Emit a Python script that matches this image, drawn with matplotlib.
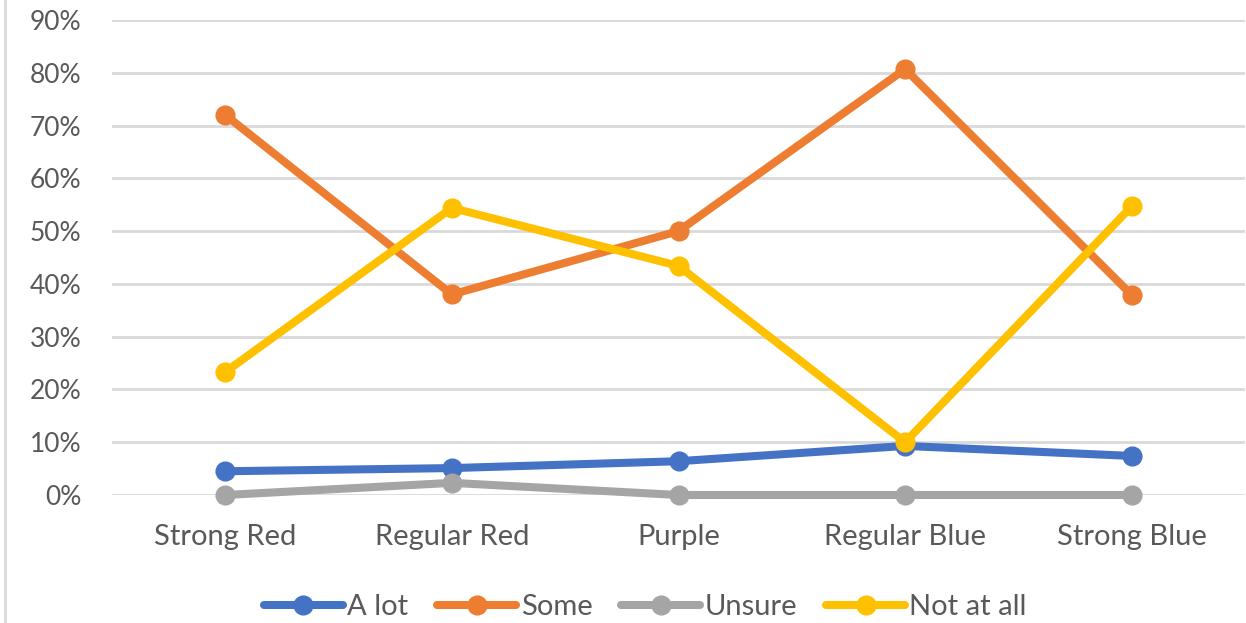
import matplotlib.pyplot as plt
from matplotlib.lines import Line2D
from matplotlib.ticker import PercentFormatter

plt.rcParams['font.family'] = ['Lato', 'DejaVu Sans']

categories = ['Strong Red', 'Regular Red', 'Purple', 'Regular Blue', 'Strong Blue']
a_lot = [0.045, 0.051, 0.064, 0.093, 0.074]
some = [0.72, 0.38, 0.50, 0.807, 0.379]
unsure = [0.0, 0.023, 0.0, 0.0, 0.0]
not_at_all = [0.233, 0.544, 0.434, 0.10, 0.547]

series = [('A lot', a_lot, '#4472C4'),
          ('Some', some, '#ED7D31'),
          ('Unsure', unsure, '#A5A5A5'),
          ('Not at all', not_at_all, '#FFC000')]

fig = plt.figure(figsize=(12.46, 6.23), dpi=100)
ax = fig.add_axes([112/1246, 1-495/623, 1133/1246, 475/623])

x = range(len(categories))
for name, vals, col in series:
    ax.plot(x, vals, color=col, lw=5.8, marker='o', ms=13.5,
            label=name, clip_on=False, solid_capstyle='round')

ax.set_xlim(-0.5, len(categories) - 0.5)
ax.set_ylim(0, 0.9)
ax.set_yticks([i / 10 for i in range(10)])
ax.yaxis.set_major_formatter(PercentFormatter(1.0, decimals=0))
ax.set_xticks(list(x))
ax.set_xticklabels(categories)
ax.grid(axis='y', color='#D9D9D9', lw=2)
ax.set_axisbelow(True)
for s in ax.spines.values():
    s.set_visible(False)
ax.tick_params(length=0, colors='#595959')
ax.tick_params(axis='y', labelsize=19, pad=22)
ax.tick_params(axis='x', labelsize=21, pad=21)

fig.legend(loc='center', bbox_to_anchor=(0.518, 0.026), ncol=4, frameon=False,
           fontsize=21, labelcolor='#595959', handlelength=2.7,
           handletextpad=0.15, columnspacing=1.0)

# chart border on the left edge
fig.add_artist(Line2D([5/1246, 5/1246], [0, 1], color='#D9D9D9', lw=2))

fig.savefig('out.png', dpi=100)
